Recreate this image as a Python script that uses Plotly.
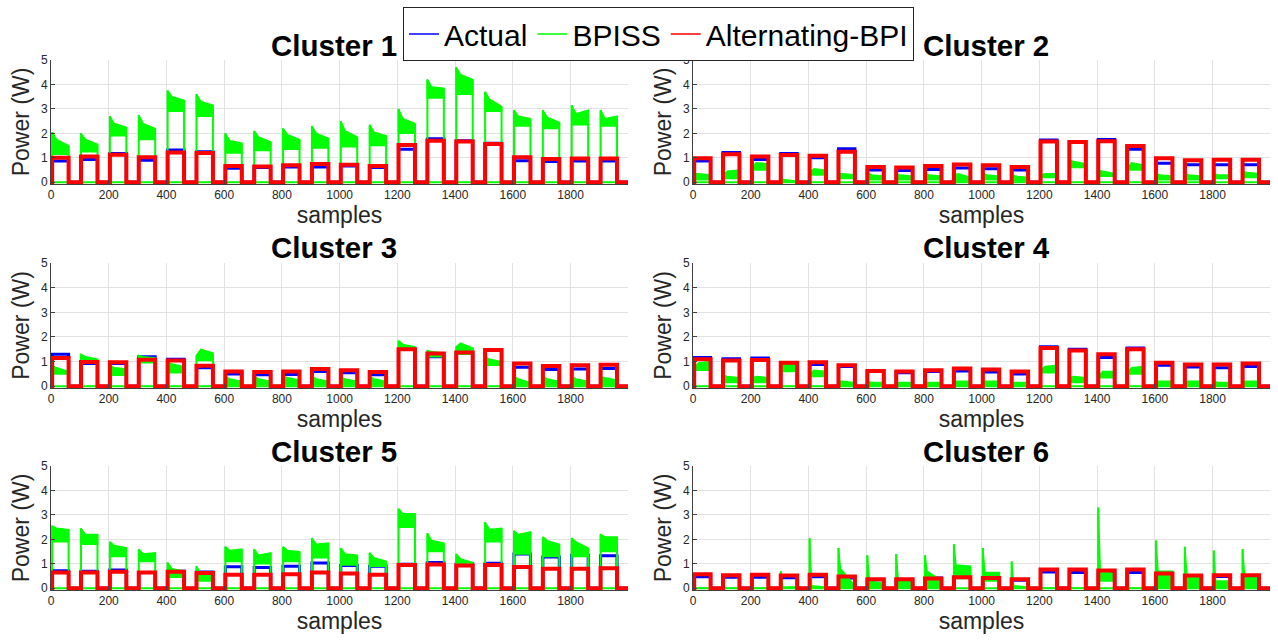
import plotly.graph_objects as go

# ---------------- data ----------------
x_last = 1999
pulse_on = [4, 104, 204, 304, 404, 504, 604, 704, 804, 904,
            1004, 1104, 1204, 1304, 1404, 1504, 1604, 1704, 1804, 1904]
pulse_off = [61, 161, 261, 361, 461, 561, 661, 761, 861, 961,
             1061, 1161, 1261, 1361, 1461, 1561, 1661, 1761, 1861, 1961]
x_ticks = [0, 200, 400, 600, 800, 1000, 1200, 1400, 1600, 1800]
y_ticks = [0, 1, 2, 3, 4, 5]
legend_names = ["Actual", "BPISS", "Alternating-BPI"]
cluster_titles = ["Cluster 1", "Cluster 2", "Cluster 3", "Cluster 4", "Cluster 5", "Cluster 6"]

# Cluster 1
actual_c1 = [0.87, 0.93, 1.18, 0.90, 1.32, 1.25, 0.57, 0.60, 0.63, 0.63,
             0.67, 0.60, 1.35, 1.78, 1.70, 1.60, 0.88, 0.85, 0.87, 0.87]
alt_c1 = [1.00, 1.05, 1.13, 1.02, 1.22, 1.20, 0.67, 0.65, 0.70, 0.75,
          0.72, 0.67, 1.52, 1.70, 1.67, 1.57, 1.02, 0.95, 0.97, 0.97]
bpiss_peak_c1 = [2.05, 2.00, 2.70, 2.75, 3.75, 3.60, 2.00, 2.10, 2.20, 2.30,
                 2.50, 2.35, 3.00, 4.20, 4.70, 3.70, 2.95, 2.95, 3.15, 2.95]
bpiss_knee_c1 = [1.75, 1.75, 2.40, 2.40, 3.50, 3.30, 1.70, 1.85, 1.95, 2.00,
                 2.10, 2.05, 2.60, 3.90, 4.40, 3.40, 2.70, 2.65, 2.80, 2.60]
bpiss_end_c1 = [1.50, 1.55, 2.25, 2.20, 3.35, 3.15, 1.60, 1.65, 1.75, 1.80,
                1.85, 1.90, 2.40, 3.85, 4.20, 3.10, 2.60, 2.45, 2.95, 2.70]
bpiss_low_c1 = [1.15, 1.25, 1.90, 1.75, 2.90, 2.70, 1.20, 1.30, 1.35, 1.40,
                1.45, 1.50, 2.00, 3.45, 3.60, 2.90, 2.30, 2.20, 2.35, 2.30]

# Cluster 2
actual_c2 = [0.87, 1.22, 0.93, 1.18, 1.00, 1.37, 0.50, 0.48, 0.52, 0.58,
             0.55, 0.50, 1.73, 1.65, 1.75, 1.35, 0.78, 0.72, 0.72, 0.72]
alt_c2 = [0.98, 1.15, 1.05, 1.12, 1.08, 1.25, 0.63, 0.60, 0.67, 0.73,
          0.70, 0.63, 1.67, 1.65, 1.68, 1.48, 0.98, 0.90, 0.92, 0.92]
bpiss_peak_c2 = [0.35, 0.30, 0.60, 0.15, 0.40, 0.35, 0.40, 0.30, 0.35, 0.30,
                 0.35, 0.30, 0.30, 0.90, 0.50, 0.55, 0.35, 0.35, 0.35, 0.45]
bpiss_knee_c2 = [0.35, 0.45, 0.80, 0.10, 0.55, 0.35, 0.30, 0.30, 0.30, 0.35,
                 0.30, 0.25, 0.35, 0.85, 0.45, 0.80, 0.30, 0.30, 0.30, 0.40]
bpiss_end_c2 = [0.30, 0.50, 0.75, 0.05, 0.50, 0.30, 0.25, 0.25, 0.25, 0.20,
                0.25, 0.20, 0.35, 0.75, 0.35, 0.70, 0.25, 0.25, 0.30, 0.35]
bpiss_low_c2 = [0.10, 0.15, 0.50, 0.00, 0.30, 0.15, 0.10, 0.10, 0.10, 0.05,
                0.10, 0.05, 0.20, 0.60, 0.25, 0.50, 0.10, 0.10, 0.15, 0.20]

# Cluster 3
actual_c3 = [1.30, 0.92, 0.92, 1.20, 1.10, 0.75, 0.50, 0.47, 0.48, 0.60,
             0.55, 0.47, 1.50, 1.20, 1.35, 1.45, 0.77, 0.68, 0.70, 0.72]
alt_c3 = [1.15, 0.98, 0.97, 1.08, 1.05, 0.83, 0.60, 0.58, 0.60, 0.70,
          0.65, 0.58, 1.50, 1.33, 1.37, 1.47, 0.92, 0.82, 0.85, 0.87]
bpiss_peak_c3 = [0.85, 1.30, 0.85, 1.25, 1.00, 1.25, 0.40, 0.40, 0.40, 0.40,
                 0.35, 0.40, 1.85, 1.45, 1.60, 1.20, 0.40, 0.40, 0.40, 0.40]
bpiss_knee_c3 = [0.75, 1.20, 0.75, 1.20, 0.90, 1.50, 0.30, 0.30, 0.35, 0.30,
                 0.30, 0.30, 1.70, 1.40, 1.75, 1.10, 0.30, 0.30, 0.30, 0.35]
bpiss_end_c3 = [0.60, 1.10, 0.70, 1.15, 0.80, 1.35, 0.20, 0.20, 0.25, 0.20,
                0.20, 0.20, 1.60, 1.35, 1.55, 1.00, 0.15, 0.20, 0.20, 0.25]
bpiss_low_c3 = [0.50, 0.95, 0.45, 0.95, 0.55, 1.05, 0.05, 0.05, 0.05, 0.05,
                0.05, 0.05, 1.50, 1.20, 1.30, 0.85, 0.05, 0.05, 0.05, 0.05]

# Cluster 4
actual_c4 = [1.17, 1.12, 1.15, 0.85, 0.88, 0.80, 0.60, 0.55, 0.60, 0.62,
             0.58, 0.50, 1.60, 1.50, 1.17, 1.55, 0.85, 0.78, 0.75, 0.80]
alt_c4 = [1.10, 1.05, 1.07, 0.95, 0.97, 0.85, 0.62, 0.60, 0.65, 0.72,
          0.68, 0.60, 1.55, 1.45, 1.30, 1.50, 0.95, 0.88, 0.88, 0.92]
bpiss_peak_c4 = [0.75, 0.45, 0.35, 0.85, 0.50, 0.20, 0.20, 0.15, 0.15, 0.20,
                 0.20, 0.15, 0.65, 0.35, 0.40, 0.55, 0.20, 0.20, 0.20, 0.20]
bpiss_knee_c4 = [0.95, 0.40, 0.40, 0.90, 0.65, 0.20, 0.15, 0.15, 0.15, 0.20,
                 0.20, 0.15, 0.80, 0.40, 0.60, 0.75, 0.20, 0.20, 0.15, 0.20]
bpiss_end_c4 = [1.00, 0.35, 0.35, 0.85, 0.60, 0.15, 0.15, 0.15, 0.15, 0.20,
                0.20, 0.15, 0.85, 0.35, 0.60, 0.80, 0.20, 0.20, 0.15, 0.20]
bpiss_low_c4 = [0.65, 0.15, 0.15, 0.60, 0.40, 0.00, 0.00, 0.00, 0.00, 0.00,
                0.00, 0.00, 0.55, 0.15, 0.35, 0.50, 0.00, 0.00, 0.00, 0.00]

# Cluster 5
actual_c5 = [0.72, 0.70, 0.75, 0.65, 0.70, 0.67, 0.88, 0.85, 0.90, 1.03,
             0.93, 0.90, 0.98, 1.05, 1.00, 1.02, 1.40, 1.28, 1.35, 1.33]
alt_c5 = [0.65, 0.65, 0.68, 0.65, 0.68, 0.62, 0.55, 0.55, 0.57, 0.65,
          0.60, 0.55, 0.95, 0.97, 0.93, 0.95, 0.87, 0.80, 0.80, 0.82]
bpiss_peak_c5 = [2.55, 2.45, 1.90, 1.60, 1.05, 0.90, 1.70, 1.60, 1.70, 2.05,
                 1.65, 1.45, 3.25, 2.25, 1.40, 2.70, 2.35, 2.10, 2.05, 2.20]
bpiss_knee_c5 = [2.45, 2.20, 1.75, 1.40, 0.80, 0.60, 1.55, 1.35, 1.55, 1.80,
                 1.40, 1.25, 3.05, 1.95, 1.20, 2.40, 2.20, 1.95, 1.90, 2.10]
bpiss_end_c5 = [2.40, 2.20, 1.65, 1.45, 0.70, 0.60, 1.60, 1.45, 1.50, 1.85,
                1.35, 1.10, 3.05, 1.85, 1.05, 2.45, 2.30, 1.80, 1.65, 2.10]
bpiss_low_c5 = [1.90, 1.80, 1.30, 1.10, 0.45, 0.30, 1.10, 1.00, 1.10, 1.25,
                0.95, 0.90, 2.50, 1.50, 0.90, 1.90, 1.40, 1.30, 1.30, 1.50]

# Cluster 6
actual_c6 = [0.47, 0.45, 0.45, 0.43, 0.47, 0.42, 0.35, 0.33, 0.42, 0.45,
             0.40, 0.33, 0.67, 0.65, 0.63, 0.65, 0.55, 0.45, 0.48, 0.47]
alt_c6 = [0.57, 0.53, 0.55, 0.52, 0.55, 0.48, 0.37, 0.37, 0.40, 0.45,
          0.42, 0.37, 0.77, 0.77, 0.73, 0.77, 0.60, 0.52, 0.53, 0.53]
bpiss_peak_c6 = [0.00, 0.00, 0.00, 0.70, 2.05, 1.65, 1.35, 1.40, 1.35, 1.80,
                 1.65, 1.10, 0.00, 0.00, 3.30, 0.00, 1.95, 1.70, 1.55, 1.60]
bpiss_knee_c6 = [0.00, 0.00, 0.00, 0.05, 0.10, 0.80, 0.30, 0.30, 0.70, 0.95,
                 0.65, 0.10, 0.00, 0.00, 0.70, 0.00, 0.70, 0.50, 0.30, 0.50]
bpiss_end_c6 = [0.00, 0.00, 0.00, 0.05, 0.05, 0.10, 0.20, 0.25, 0.30, 0.90,
                0.65, 0.05, 0.00, 0.00, 0.60, 0.00, 0.70, 0.50, 0.30, 0.50]
bpiss_low_c6 = [0.00, 0.00, 0.00, 0.00, 0.00, 0.00, 0.00, 0.00, 0.00, 0.40,
                0.30, 0.00, 0.00, 0.00, 0.30, 0.00, 0.00, 0.00, 0.00, 0.00]

clusters = [
    (actual_c1, alt_c1, bpiss_peak_c1, bpiss_knee_c1, bpiss_end_c1, bpiss_low_c1),
    (actual_c2, alt_c2, bpiss_peak_c2, bpiss_knee_c2, bpiss_end_c2, bpiss_low_c2),
    (actual_c3, alt_c3, bpiss_peak_c3, bpiss_knee_c3, bpiss_end_c3, bpiss_low_c3),
    (actual_c4, alt_c4, bpiss_peak_c4, bpiss_knee_c4, bpiss_end_c4, bpiss_low_c4),
    (actual_c5, alt_c5, bpiss_peak_c5, bpiss_knee_c5, bpiss_end_c5, bpiss_low_c5),
    (actual_c6, alt_c6, bpiss_peak_c6, bpiss_knee_c6, bpiss_end_c6, bpiss_low_c6),
]

# ---------------- style ----------------
W, H = 1278, 640
FONT = "Liberation Sans, Arial, Helvetica, sans-serif"
BLUE, GREEN, RED = "#0000ff", "#00ff00", "#ff0000"
col_px = [(51, 628), (693, 1270)]
row_px = [(60, 184), (263, 388), (466, 590)]
title_cx = [334, 986]
knee_w = [15, 15, 15, 15, 15, 7]


def step_path(levels):
    xs, ys = [0], [0]
    for s, e, v in zip(pulse_on, pulse_off, levels):
        xs += [s, s, e, e]
        ys += [0, v, v, 0]
    xs.append(x_last)
    ys.append(0)
    return xs, ys


def band_path(peak, knee, end, low, kw):
    xs, ys = [], []
    for s, e, p, k, en, lo in zip(pulse_on, pulse_off, peak, knee, end, low):
        xs += [s, s, s + kw, e, e, s, None]
        ys += [lo, p, k, en, lo, lo, None]
    return xs, ys


def edge_path(peak, end):
    xs, ys = [0], [0]
    for s, e, p, en in zip(pulse_on, pulse_off, peak, end):
        xs += [s, s, s, e, e, e]
        ys += [0, p, 0, 0, en, 0]
    xs.append(x_last)
    ys.append(0)
    return xs, ys


fig = go.Figure()
layout = dict(
    width=W, height=H, margin=dict(l=0, r=0, t=0, b=0, autoexpand=False),
    paper_bgcolor="white", plot_bgcolor="white",
    font=dict(family=FONT, color="#262626"),
    showlegend=True,
    legend=dict(orientation="h", x=658.5 / W, xanchor="center", y=1 - 7 / H, yanchor="top",
                font=dict(size=30, family=FONT, color="#000000"),
                bordercolor="#262626", borderwidth=1, bgcolor="white",
                itemwidth=30, tracegroupgap=0),
)
annotations = []

for i, (act, alt, pk, kn, en, lo) in enumerate(clusters):
    r, c = divmod(i, 2)
    n = i + 1
    xa = "x" if n == 1 else f"x{n}"
    ya = "y" if n == 1 else f"y{n}"

    bx, by = step_path(act)
    fig.add_trace(go.Scatter(x=bx, y=by, mode="lines", line=dict(color=BLUE, width=3),
                             xaxis=xa, yaxis=ya, showlegend=False, hoverinfo="skip"))
    gx, gy = edge_path(pk, en)
    fig.add_trace(go.Scatter(x=gx, y=gy, mode="lines", line=dict(color=GREEN, width=2),
                             xaxis=xa, yaxis=ya, showlegend=False, hoverinfo="skip"))
    fx, fy = band_path(pk, kn, en, lo, knee_w[i])
    fig.add_trace(go.Scatter(x=fx, y=fy, mode="lines", fill="toself",
                             fillcolor=GREEN, line=dict(color=GREEN, width=1.5),
                             xaxis=xa, yaxis=ya, showlegend=False, hoverinfo="skip"))
    rx, ry = step_path(alt)
    fig.add_trace(go.Scatter(x=rx, y=ry, mode="lines", line=dict(color=RED, width=4),
                             xaxis=xa, yaxis=ya, showlegend=False, hoverinfo="skip"))

    x0, x1 = col_px[c]
    y0, y1 = row_px[r]
    axkey = "xaxis" if n == 1 else f"xaxis{n}"
    aykey = "yaxis" if n == 1 else f"yaxis{n}"
    layout[axkey] = dict(
        domain=[x0 / W, x1 / W], anchor=ya, range=[0, x_last], automargin=False,
        tickvals=x_ticks, ticktext=[str(v) for v in x_ticks],
        showgrid=True, gridcolor="#e2e2e2", gridwidth=1,
        showline=True, linecolor="#404040", linewidth=1,
        ticks="inside", ticklen=4, tickcolor="#404040",
        zeroline=False, tickfont=dict(size=12, color="#262626"),
        title=dict(text="samples", font=dict(size=23, color="#262626"), standoff=0),
    )
    layout[aykey] = dict(
        domain=[1 - y1 / H, 1 - y0 / H], anchor=xa, range=[-0.07, 5], automargin=False,
        tickvals=y_ticks, ticktext=[str(v) for v in y_ticks],
        showgrid=True, gridcolor="#e2e2e2", gridwidth=1,
        showline=True, linecolor="#404040", linewidth=1,
        ticks="inside", ticklen=4, tickcolor="#404040",
        zeroline=False, tickfont=dict(size=12, color="#262626"),
        title=dict(text="Power (W)", font=dict(size=23, color="#262626"), standoff=4),
    )
    annotations.append(dict(
        text=f"<b>{cluster_titles[i]}</b>", xref="paper", yref="paper",
        x=title_cx[c] / W, y=1 - (y0 - 15) / H, xanchor="center", yanchor="middle",
        showarrow=False, font=dict(size=29.5, family=FONT, color="#000000"),
    ))

# legend-only entries with thin sample lines
for name, colr in zip(legend_names, [BLUE, GREEN, RED]):
    fig.add_trace(go.Scatter(x=[None], y=[None], mode="lines", name=name,
                             line=dict(color=colr, width=1.5), xaxis="x", yaxis="y",
                             showlegend=True, hoverinfo="skip"))

layout["annotations"] = annotations
fig.update_layout(**layout)
fig.write_html("out.html", config={"displayModeBar": False},
               post_script="document.body.style.margin='0px';")
